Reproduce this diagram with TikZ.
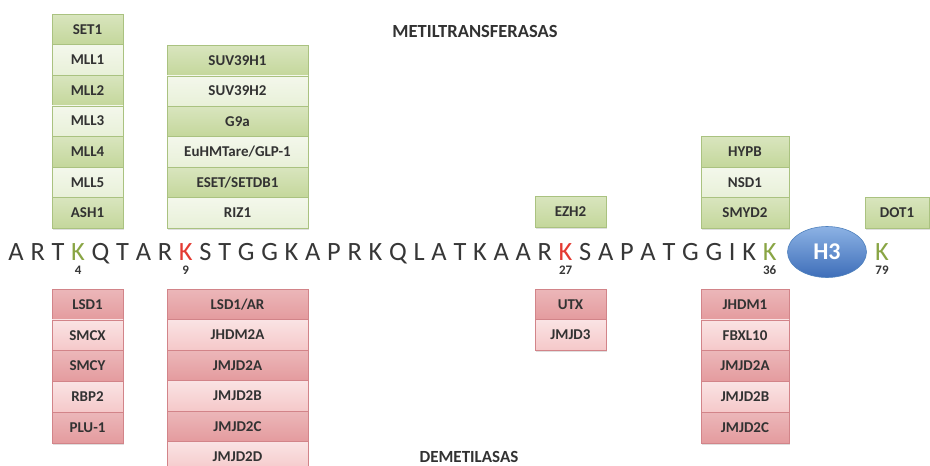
\documentclass[tikz,border=0pt]{standalone}
\usepackage{fontspec}
\setmainfont{Carlito}
\usetikzlibrary{shadows,shapes.geometric,calc}
\definecolor{gdk}{RGB}{196,215,155}
\definecolor{glt}{RGB}{232,240,216}
\definecolor{gbd}{RGB}{170,194,128}
\definecolor{rdk}{RGB}{228,155,158}
\definecolor{rlt}{RGB}{245,200,201}
\definecolor{rbd}{RGB}{210,132,137}
\definecolor{seqgray}{RGB}{55,55,55}
\definecolor{kgreen}{RGB}{137,165,68}
\definecolor{kred}{RGB}{228,58,50}
\definecolor{txt}{RGB}{50,50,50}
\definecolor{hbd}{RGB}{79,129,189}
\definecolor{htop}{RGB}{140,178,228}
\definecolor{hbot}{RGB}{62,110,185}
\tikzset{
  rowbox/.style={draw, line width=0.6pt, inner sep=0pt, outer sep=0pt,
    font=\bfseries\fontsize{15}{16}\selectfont, text=txt,
    drop shadow={shadow xshift=1.2pt, shadow yshift=-1.5pt, opacity=0.25}},
  gd/.style={rowbox, draw=gbd, top color=gdk!65!white, bottom color=gdk},
  gl/.style={rowbox, draw=gbd, top color=glt!50!white, bottom color=glt},
  rd/.style={rowbox, draw=rbd, top color=rdk!72!white, bottom color=rdk},
  rl/.style={rowbox, draw=rbd, top color=rlt!50!white, bottom color=rlt},
  seql/.style={font=\fontsize{26.4}{30}\selectfont, text=seqgray, inner sep=0pt, outer sep=0pt, anchor=base west},
  numl/.style={font=\bfseries\fontsize{13}{14}\selectfont, text=seqgray, inner sep=0pt, outer sep=0pt, anchor=base},
  title/.style={font=\bfseries\fontsize{17}{19}\selectfont, text=txt, inner sep=0pt},
  c4/.style={text=kgreen}, c9/.style={text=kred}, c27/.style={text=kred}, c37/.style={text=kgreen}
}
\newcommand\mkcol[8]{%
  \foreach \lab [count=\i] in {#8} {%
    \ifodd\i \def\sty{#6}\else\def\sty{#7}\fi
    \node[\sty, minimum width=#4pt, minimum height=#5pt, anchor=north] (#1\i) at (#2, {#3+(\i-1)*#5}) {\lab};
  }%
}
\begin{document}
\begin{tikzpicture}[x=1pt,y=-1pt]
\fill[white] (0,0) rectangle (930,466);
\useasboundingbox (0,0) rectangle (930,466);
% titles
\node[title, font=\bfseries\fontsize{18.5}{20}\selectfont] (met) at (475,31) {METILTRANSFERASAS};
\node[title] (dem) at (469,457) {DEMETILASAS};
% methyltransferases
\mkcol{a}{87.5}{14}{71}{30.6}{gd}{gl}{SET1,MLL1,MLL2,MLL3,MLL4,MLL5,ASH1}
\mkcol{b}{237.5}{45.4}{141}{30.45}{gd}{gl}{SUV39H1,SUV39H2,G9a,EuHMTare/GLP-1,ESET/SETDB1,RIZ1}
\mkcol{c}{570.5}{196}{71}{31}{gd}{gl}{EZH2}
\mkcol{d}{745}{136.5}{88}{30.5}{gd}{gl}{HYPB,NSD1,SMYD2}
\mkcol{e}{897}{197}{64}{31}{gd}{gl}{DOT1}
% demethylases
\mkcol{f}{87.5}{289}{71}{30.8}{rd}{rl}{LSD1,SMCX,SMCY,RBP2,PLU-1}
\mkcol{g}{237.5}{289}{141}{30.5}{rd}{rl}{LSD1/AR,JHDM2A,JMJD2A,JMJD2B,JMJD2C,JMJD2D}
\mkcol{h}{570.5}{289}{71}{30.5}{rd}{rl}{UTX,JMJD3}
\mkcol{i}{745}{289}{88}{30.8}{rd}{rl}{JHDM1,FBXL10,JMJD2A,JMJD2B,JMJD2C}
% sequence
\node[seql, anchor=base east, minimum size=0pt] (s0) at (1.75,260) {};
\foreach \ltr [count=\i, remember=\i as \p (initially 0)] in {A,R,T,K,Q,T,A,R,K,S,T,G,G,K,A,P,R,K,Q,L,A,T,K,A,A,R,K,S,A,P,A,T,G,G,I,K,K}
  \node[seql, c\i/.try] (s\i) at ([xshift=6.75pt]s\p.base east) {\ltr};
\node[numl] (n4) at ([yshift=-14pt]s4.base) {4};
\node[numl] (n9) at ([yshift=-14pt]s9.base) {9};
\node[numl] (n27) at ([yshift=-14pt]s27.base) {27};
\node[numl] (n36) at ([yshift=-14pt]s37.base) {36};
% H3
\node[ellipse, minimum width=79pt, minimum height=51pt, inner sep=0pt, draw=hbd, line width=0.6pt,
  top color=htop, bottom color=hbot, text=white, font=\bfseries\fontsize{24}{26}\selectfont] (h3) at (827,252) {H3};
\node[seql, text=kgreen, anchor=base] (k79) at (882,260) {K};
\node[numl] (n79) at ([yshift=-14pt]k79.base) {79};
\end{tikzpicture}
\end{document}
